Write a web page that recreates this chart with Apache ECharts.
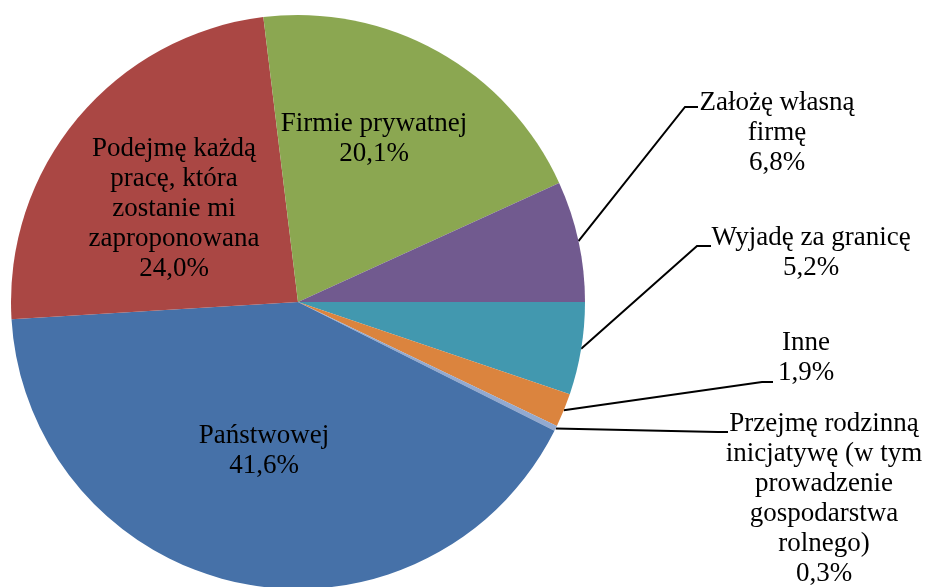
<!DOCTYPE html>
<html>
<head>
<meta charset="utf-8">
<script src="https://cdn.jsdelivr.net/npm/echarts@6/dist/echarts.min.js"></script>
<style>
  html, body { margin: 0; padding: 0; background: #ffffff; }
  #chart { width: 925px; height: 587px; }
</style>
</head>
<body>
<div id="chart"></div>
<script>
// Answers in drawing order, clockwise from the 3 o'clock position
const categories = [
  'Wyjadę za granicę',
  'Inne',
  'Przejmę rodzinną\ninicjatywę (w tym\nprowadzenie\ngospodarstwa\nrolnego)',
  'Państwowej',
  'Podejmę każdą\npracę, która\nzostanie mi\nzaproponowana',
  'Firmie prywatnej',
  'Założę własną\nfirmę'
];
const shares = [5.2, 1.9, 0.3, 41.6, 24.0, 20.1, 6.8];
const sliceColors = ['#4298AF', '#DB843E', '#93A9CF', '#4671A8', '#AA4744', '#8BA751', '#715A8F'];
const insideLabel = [false, false, false, true, true, true, false];

// Where each label block sits, and the elbow/end of its leader line
const labelSpots = [
  { x: 811, y: 253, line: [[697, 246], [711, 246]] },
  { x: 806, y: 358, line: [[762, 382], [773, 382]] },
  { x: 824, y: 499, line: [[718, 432], [728, 432]] },
  { x: 264, y: 451 },
  { x: 174, y: 209 },
  { x: 374, y: 139 },
  { x: 777, y: 133, line: [[685, 107], [698, 107]] }
];

const pieData = categories.map((name, i) => ({
  name: name,
  value: shares[i],
  itemStyle: { color: sliceColors[i] },
  label: { position: insideLabel[i] ? 'inside' : 'outside' },
  labelLine: { show: !insideLabel[i] }
}));

const chart = echarts.init(document.getElementById('chart'), null, { renderer: 'canvas' });
chart.setOption({
  backgroundColor: '#ffffff',
  animation: false,
  series: [{
    type: 'pie',
    center: [298, 302],
    radius: 287,
    startAngle: 0,
    clockwise: true,
    avoidLabelOverlap: false,
    silent: true,
    data: pieData,
    itemStyle: { borderWidth: 0 },
    label: {
      show: true,
      color: '#000000',
      fontFamily: '"Liberation Serif", "Times New Roman", serif',
      fontSize: 27,
      lineHeight: 30,
      align: 'center',
      formatter: p => p.name + '\n' + p.value.toFixed(1).replace('.', ',') + '%'
    },
    labelLine: {
      show: true,
      length: 20,
      length2: 10,
      lineStyle: { color: '#000000', width: 2 }
    },
    labelLayout: function (params) {
      const spot = labelSpots[params.dataIndex];
      const out = { x: spot.x, y: spot.y, align: 'center', verticalAlign: 'middle' };
      if (spot.line && params.labelLinePoints) {
        out.labelLinePoints = [params.labelLinePoints[0], spot.line[0], spot.line[1]];
      }
      return out;
    }
  }]
});
</script>
</body>
</html>
